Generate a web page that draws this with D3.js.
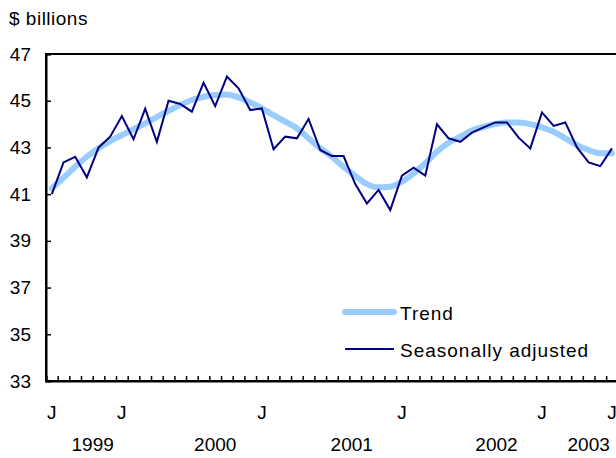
<!DOCTYPE html>
<html>
<head>
<meta charset="utf-8">
<script src="https://cdn.jsdelivr.net/npm/d3@7"></script>
<style>
	body { margin: 0; background: #fff; }
	svg text { font-family: "Liberation Sans", Arial, sans-serif; fill: #000; }
</style>
</head>
<body>
<div id="chart"></div>
<script>
// monthly, Jan 1999 .. Jan 2003
const months = d3.range(49);

const seasonallyAdjusted = [
	41.0, 42.36, 42.6, 41.72, 42.99, 43.46, 44.34, 43.35, 44.66, 43.24,
	45.0, 44.86, 44.53, 45.77, 44.77, 46.03, 45.53, 44.6, 44.67, 42.92,
	43.46, 43.39, 44.22, 42.89, 42.63, 42.63, 41.43, 40.6, 41.18, 40.32,
	41.79, 42.13, 41.79, 43.99, 43.39, 43.24, 43.63, 43.86, 44.07, 44.07,
	43.42, 42.96, 44.5, 43.92, 44.07, 43.0, 42.36, 42.2, 42.96
];

const trend = [
	41.25, 41.7, 42.17, 42.6, 42.96, 43.27, 43.53, 43.78, 44.03, 44.3,
	44.57, 44.82, 45.03, 45.17, 45.24, 45.27, 45.14, 44.93, 44.67, 44.38,
	44.1, 43.82, 43.39, 42.96, 42.6, 42.17, 41.78, 41.43, 41.29, 41.32,
	41.53, 41.89, 42.32, 42.82, 43.2, 43.46, 43.72, 43.88, 44.0, 44.07,
	44.07, 44.0, 43.86, 43.67, 43.39, 43.1, 42.89, 42.75, 42.75
];

const yTicks = [33, 35, 37, 39, 41, 43, 45, 47];
const monthLabels = [
	{ i: 0, label: "J" }, { i: 6, label: "J" }, { i: 18, label: "J" },
	{ i: 30, label: "J" }, { i: 42, label: "J" }, { i: 48, label: "J" }
];
const yearLabels = [
	{ i: 3.5, label: "1999" }, { i: 14, label: "2000" }, { i: 25.7, label: "2001" },
	{ i: 38.1, label: "2002" }, { i: 46, label: "2003" }
];
const seriesNames = ["Trend", "Seasonally adjusted"];

const
	width = 616,
	height = 458,
	plotLeft = 46,
	plotTop = 54,
	plotBottom = 381,
	step = 11.67;

const svg = d3.select("#chart")
	.append("svg")
	.attr("width", width)
	.attr("height", height);

const x = d3.scaleLinear()
	.domain([-0.5, 48.5])
	.range([plotLeft, plotLeft + 49 * step]);

const y = d3.scaleLinear()
	.domain([33, 47])
	.range([plotBottom, plotTop]);

// frame
svg.append("rect")
	.attr("x", plotLeft)
	.attr("y", plotTop)
	.attr("width", x(48.5) - plotLeft)
	.attr("height", plotBottom - plotTop)
	.attr("fill", "none")
	.attr("stroke", "#000")
	.attr("stroke-width", 2);

// y axis
const yAxis = svg.append("g")
	.attr("transform", `translate(${plotLeft},0)`)
	.call(d3.axisLeft(y).tickValues(yTicks).tickSize(-5).tickPadding(15));
yAxis.select(".domain").attr("stroke-width", 2);
yAxis.selectAll(".tick line").attr("stroke-width", 1.5);
yAxis.selectAll("text")
	.style("font-size", "19px")
	.attr("font-family", null);

// x axis: month boundary ticks
const xAxis = svg.append("g")
	.attr("transform", `translate(0,${plotBottom})`)
	.call(d3.axisBottom(x).tickValues(d3.range(-0.5, 49, 1)).tickSize(-5).tickFormat(""));
xAxis.select(".domain").attr("stroke-width", 2);
xAxis.selectAll(".tick line").attr("stroke-width", 1.5);

svg.selectAll(".month-label")
	.data(monthLabels)
	.enter()
	.append("text")
	.attr("class", "month-label")
	.attr("x", d => x(d.i))
	.attr("y", 419)
	.attr("text-anchor", "middle")
	.style("font-size", "19px")
	.text(d => d.label);

svg.selectAll(".year-label")
	.data(yearLabels)
	.enter()
	.append("text")
	.attr("class", "year-label")
	.attr("x", d => x(d.i))
	.attr("y", 451)
	.attr("text-anchor", "middle")
	.style("font-size", "19px")
	.text(d => d.label);

svg.append("text")
	.attr("x", 9)
	.attr("y", 25)
	.style("font-size", "19px")
	.style("letter-spacing", "0.5px")
	.text("$ billions");

// lines
const line = d3.line()
	.x((d, i) => x(i))
	.y(d => y(d));

svg.append("path")
	.datum(trend)
	.attr("d", line.curve(d3.curveMonotoneX))
	.attr("fill", "none")
	.attr("stroke", "#99ccff")
	.attr("stroke-width", 6)
	.attr("stroke-linecap", "round")
	.attr("stroke-linejoin", "round");

svg.append("path")
	.datum(seasonallyAdjusted)
	.attr("d", line.curve(d3.curveLinear))
	.attr("fill", "none")
	.attr("stroke", "#000080")
	.attr("stroke-width", 2);

// legend
const legend = svg.append("g");
const legendStyles = [
	{ color: "#99ccff", width: 6, y: 312 },
	{ color: "#000080", width: 2, y: 349 }
];
seriesNames.forEach((name, i) => {
	const s = legendStyles[i];
	legend.append("line")
		.attr("x1", 345)
		.attr("x2", 394)
		.attr("y1", s.y)
		.attr("y2", s.y)
		.attr("stroke", s.color)
		.attr("stroke-width", s.width)
		.attr("stroke-linecap", i === 0 ? "round" : "butt");
	legend.append("text")
		.attr("x", 400)
		.attr("y", s.y + 8)
		.style("font-size", "19px")
		.style("letter-spacing", "1px")
		.text(name);
});
</script>
</body>
</html>
